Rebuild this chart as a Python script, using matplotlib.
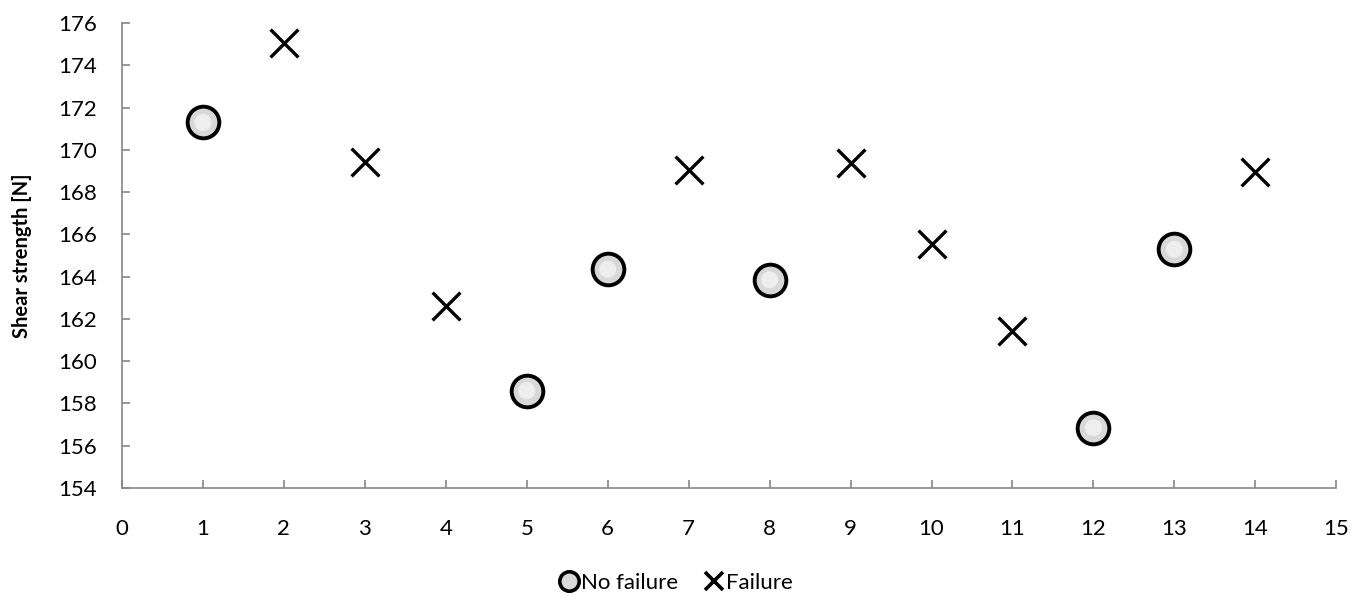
import matplotlib
matplotlib.use("Agg")
import matplotlib.pyplot as plt
from matplotlib.lines import Line2D

plt.rcParams['font.family'] = ['Lato', 'DejaVu Sans']

nofail_x = [1, 5, 6, 8, 12, 13]
nofail_y = [171.3, 158.6, 164.35, 163.85, 156.85, 165.3]
fail_x = [2, 3, 4, 7, 9, 10, 11, 14]
fail_y = [175.05, 169.45, 162.6, 169.05, 169.4, 165.55, 161.45, 168.95]
xticks = list(range(0, 16))
yticks = list(range(154, 177, 2))

fig = plt.figure(figsize=(13.62, 6.09), dpi=100)
ax = fig.add_axes([0.0896, 0.1987, 0.8915, 0.7633])

ax.scatter(nofail_x, nofail_y, s=520, facecolor='#d8d8d8', edgecolor='black', linewidth=2.8, zorder=3)
ax.scatter(nofail_x, nofail_y, s=150, facecolor='#f4f4f4', edgecolor='none', zorder=4, alpha=0.8)
ax.scatter(fail_x, fail_y, s=400, marker='x', color='black', linewidth=2.4, zorder=3)

ax.set_xlim(0, 15)
ax.set_ylim(154, 176)
ax.set_xticks(xticks)
ax.set_yticks(yticks)
for s in ['top', 'right']:
    ax.spines[s].set_visible(False)
for s in ['left', 'bottom']:
    ax.spines[s].set_color('#868686')
    ax.spines[s].set_linewidth(1.2)
ax.tick_params(axis='both', direction='in', color='#868686', width=1.2, length=6, labelsize=16)
ax.tick_params(axis='x', pad=22)
ax.tick_params(axis='y', pad=18)
ax.set_ylabel('Shear strength [N]', fontsize=14.5, fontweight='bold', labelpad=19)

handles = [
    Line2D([], [], marker='o', linestyle='none', markersize=14, markerfacecolor='#d8d8d8',
           markeredgecolor='black', markeredgewidth=2.6),
    Line2D([], [], marker='x', linestyle='none', markersize=13, color='black', markeredgewidth=2.6),
]
fig.legend(handles, ['No failure', 'Failure'], loc='center', bbox_to_anchor=(0.496, 0.043),
           ncol=2, frameon=False, fontsize=16, handletextpad=0.05, columnspacing=1.1,
           handlelength=1.0)

fig.savefig('out.png', dpi=100)
